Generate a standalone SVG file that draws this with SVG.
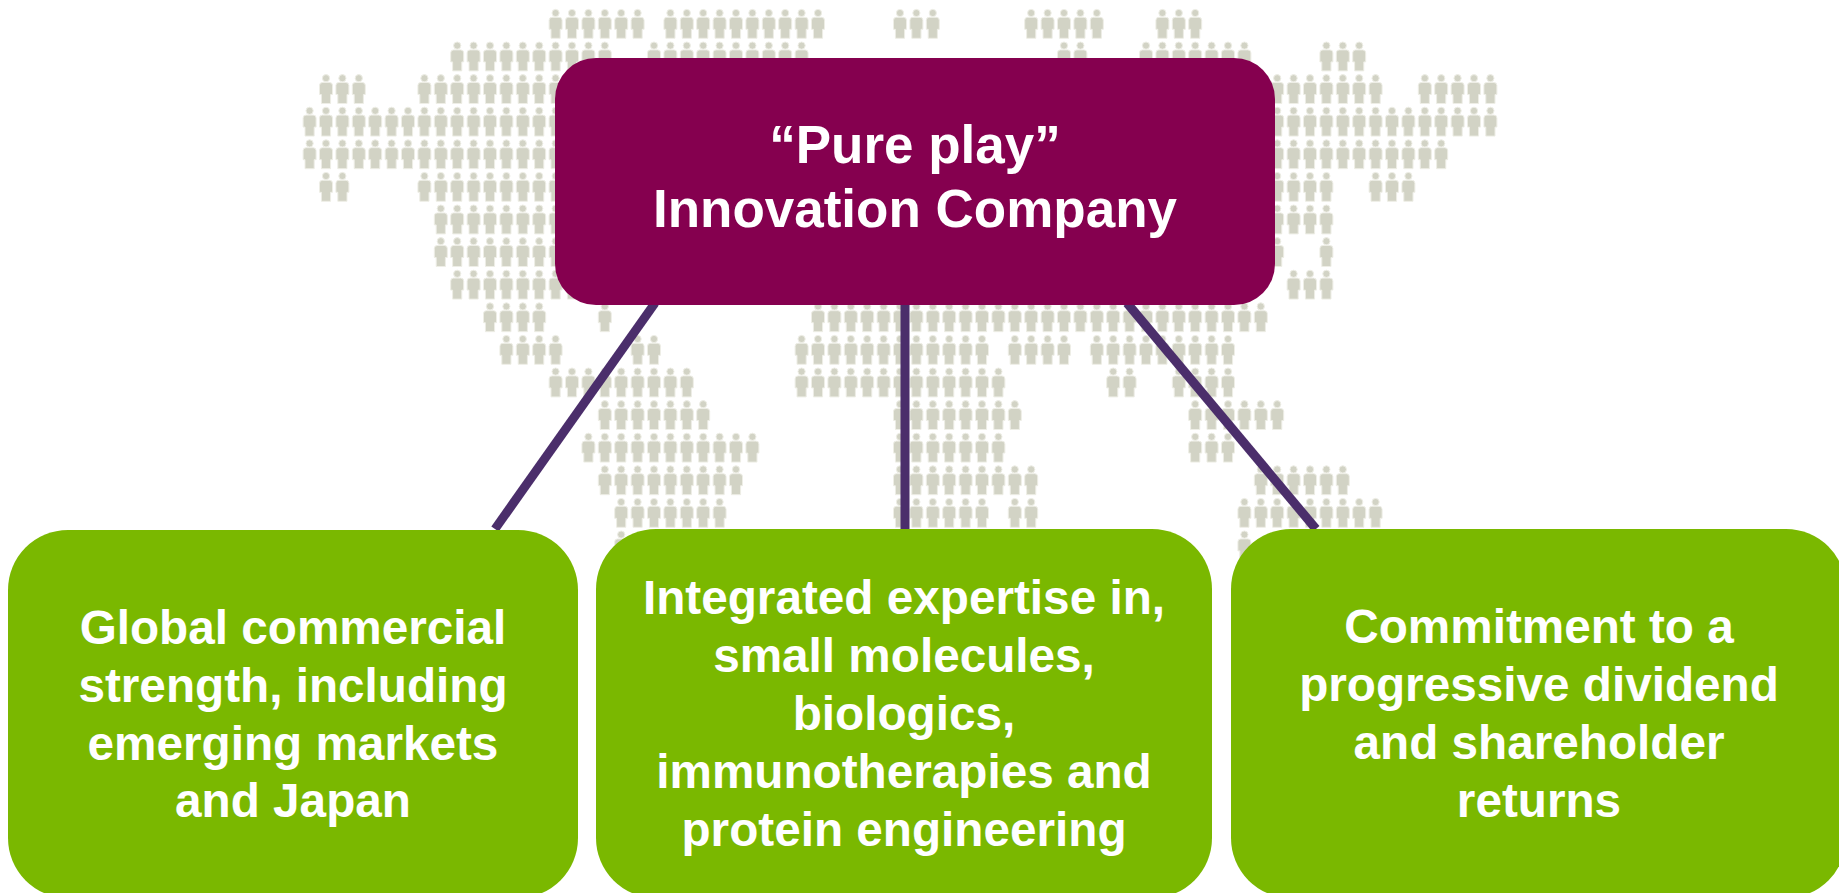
<svg xmlns="http://www.w3.org/2000/svg" width="1839" height="893" viewBox="0 0 1839 893">
<style>
text{font-family:"Liberation Sans",Arial,sans-serif;font-weight:700;fill:#fff;text-anchor:middle}
.t{font-size:53px}.g{font-size:47.7px}
.c{stroke:#4b2e6b;stroke-width:9;fill:none}
.h{fill:#d2d3c5;stroke:#eeeee6;stroke-width:1}
.n{fill:#7ab800}
</style>
<rect width="1839" height="893" fill="#fff"/>
<defs><g id="p" class="h"><circle cx="0" cy="3.7" r="3.6"/><path d="M-6.5 11Q-6.5 8-3.5 8H3.5Q6.5 8 6.5 11V20H4.6V29H-4.6V20H-6.5Z"/></g></defs>
<g id="map">
<g transform="translate(0,9.3)"><use href="#p" x="555.6"/><use href="#p" x="572"/><use href="#p" x="588.4"/><use href="#p" x="604.8"/><use href="#p" x="621.2"/><use href="#p" x="637.6"/><use href="#p" x="670.4"/><use href="#p" x="686.8"/><use href="#p" x="703.2"/><use href="#p" x="719.6"/><use href="#p" x="736"/><use href="#p" x="752.4"/><use href="#p" x="768.8"/><use href="#p" x="785.2"/><use href="#p" x="801.6"/><use href="#p" x="818"/><use href="#p" x="900"/><use href="#p" x="916.4"/><use href="#p" x="932.8"/><use href="#p" x="1031.2"/><use href="#p" x="1047.6"/><use href="#p" x="1064"/><use href="#p" x="1080.4"/><use href="#p" x="1096.8"/><use href="#p" x="1162.4"/><use href="#p" x="1178.8"/><use href="#p" x="1195.2"/></g>
<g transform="translate(0,41.9)"><use href="#p" x="457.2"/><use href="#p" x="473.6"/><use href="#p" x="490"/><use href="#p" x="506.4"/><use href="#p" x="522.8"/><use href="#p" x="539.2"/><use href="#p" x="555.6"/><use href="#p" x="572"/><use href="#p" x="588.4"/><use href="#p" x="604.8"/><use href="#p" x="654"/><use href="#p" x="670.4"/><use href="#p" x="686.8"/><use href="#p" x="703.2"/><use href="#p" x="719.6"/><use href="#p" x="736"/><use href="#p" x="752.4"/><use href="#p" x="768.8"/><use href="#p" x="785.2"/><use href="#p" x="801.6"/><use href="#p" x="1064"/><use href="#p" x="1080.4"/><use href="#p" x="1146"/><use href="#p" x="1162.4"/><use href="#p" x="1178.8"/><use href="#p" x="1195.2"/><use href="#p" x="1211.6"/><use href="#p" x="1228"/><use href="#p" x="1244.4"/><use href="#p" x="1326.4"/><use href="#p" x="1342.8"/><use href="#p" x="1359.2"/></g>
<g transform="translate(0,74.5)"><use href="#p" x="326"/><use href="#p" x="342.4"/><use href="#p" x="358.8"/><use href="#p" x="424.4"/><use href="#p" x="440.8"/><use href="#p" x="457.2"/><use href="#p" x="473.6"/><use href="#p" x="490"/><use href="#p" x="506.4"/><use href="#p" x="522.8"/><use href="#p" x="539.2"/><use href="#p" x="555.6"/><use href="#p" x="1277.2"/><use href="#p" x="1293.6"/><use href="#p" x="1310"/><use href="#p" x="1326.4"/><use href="#p" x="1342.8"/><use href="#p" x="1359.2"/><use href="#p" x="1375.6"/><use href="#p" x="1424.8"/><use href="#p" x="1441.2"/><use href="#p" x="1457.6"/><use href="#p" x="1474"/><use href="#p" x="1490.4"/></g>
<g transform="translate(0,107.1)"><use href="#p" x="309.6"/><use href="#p" x="326"/><use href="#p" x="342.4"/><use href="#p" x="358.8"/><use href="#p" x="375.2"/><use href="#p" x="391.6"/><use href="#p" x="408"/><use href="#p" x="424.4"/><use href="#p" x="440.8"/><use href="#p" x="457.2"/><use href="#p" x="473.6"/><use href="#p" x="490"/><use href="#p" x="506.4"/><use href="#p" x="522.8"/><use href="#p" x="539.2"/><use href="#p" x="555.6"/><use href="#p" x="1277.2"/><use href="#p" x="1293.6"/><use href="#p" x="1310"/><use href="#p" x="1326.4"/><use href="#p" x="1342.8"/><use href="#p" x="1359.2"/><use href="#p" x="1375.6"/><use href="#p" x="1392"/><use href="#p" x="1408.4"/><use href="#p" x="1424.8"/><use href="#p" x="1441.2"/><use href="#p" x="1457.6"/><use href="#p" x="1474"/><use href="#p" x="1490.4"/></g>
<g transform="translate(0,139.7)"><use href="#p" x="309.6"/><use href="#p" x="326"/><use href="#p" x="342.4"/><use href="#p" x="358.8"/><use href="#p" x="375.2"/><use href="#p" x="391.6"/><use href="#p" x="408"/><use href="#p" x="424.4"/><use href="#p" x="440.8"/><use href="#p" x="457.2"/><use href="#p" x="473.6"/><use href="#p" x="490"/><use href="#p" x="506.4"/><use href="#p" x="522.8"/><use href="#p" x="539.2"/><use href="#p" x="555.6"/><use href="#p" x="1277.2"/><use href="#p" x="1293.6"/><use href="#p" x="1310"/><use href="#p" x="1326.4"/><use href="#p" x="1342.8"/><use href="#p" x="1359.2"/><use href="#p" x="1375.6"/><use href="#p" x="1392"/><use href="#p" x="1408.4"/><use href="#p" x="1424.8"/><use href="#p" x="1441.2"/></g>
<g transform="translate(0,172.3)"><use href="#p" x="326"/><use href="#p" x="342.4"/><use href="#p" x="424.4"/><use href="#p" x="440.8"/><use href="#p" x="457.2"/><use href="#p" x="473.6"/><use href="#p" x="490"/><use href="#p" x="506.4"/><use href="#p" x="522.8"/><use href="#p" x="539.2"/><use href="#p" x="555.6"/><use href="#p" x="1277.2"/><use href="#p" x="1293.6"/><use href="#p" x="1310"/><use href="#p" x="1326.4"/><use href="#p" x="1375.6"/><use href="#p" x="1392"/><use href="#p" x="1408.4"/></g>
<g transform="translate(0,204.9)"><use href="#p" x="440.8"/><use href="#p" x="457.2"/><use href="#p" x="473.6"/><use href="#p" x="490"/><use href="#p" x="506.4"/><use href="#p" x="522.8"/><use href="#p" x="539.2"/><use href="#p" x="555.6"/><use href="#p" x="1277.2"/><use href="#p" x="1293.6"/><use href="#p" x="1310"/><use href="#p" x="1326.4"/></g>
<g transform="translate(0,237.5)"><use href="#p" x="440.8"/><use href="#p" x="457.2"/><use href="#p" x="473.6"/><use href="#p" x="490"/><use href="#p" x="506.4"/><use href="#p" x="522.8"/><use href="#p" x="539.2"/><use href="#p" x="555.6"/><use href="#p" x="1277.2"/><use href="#p" x="1326.4"/></g>
<g transform="translate(0,270.1)"><use href="#p" x="457.2"/><use href="#p" x="473.6"/><use href="#p" x="490"/><use href="#p" x="506.4"/><use href="#p" x="522.8"/><use href="#p" x="539.2"/><use href="#p" x="555.6"/><use href="#p" x="572"/><use href="#p" x="1293.6"/><use href="#p" x="1310"/><use href="#p" x="1326.4"/></g>
<g transform="translate(0,302.7)"><use href="#p" x="490"/><use href="#p" x="506.4"/><use href="#p" x="522.8"/><use href="#p" x="539.2"/><use href="#p" x="604.8"/><use href="#p" x="818"/><use href="#p" x="834.4"/><use href="#p" x="850.8"/><use href="#p" x="867.2"/><use href="#p" x="883.6"/><use href="#p" x="900"/><use href="#p" x="916.4"/><use href="#p" x="932.8"/><use href="#p" x="949.2"/><use href="#p" x="965.6"/><use href="#p" x="982"/><use href="#p" x="998.4"/><use href="#p" x="1014.8"/><use href="#p" x="1031.2"/><use href="#p" x="1047.6"/><use href="#p" x="1064"/><use href="#p" x="1080.4"/><use href="#p" x="1096.8"/><use href="#p" x="1113.2"/><use href="#p" x="1129.6"/><use href="#p" x="1146"/><use href="#p" x="1162.4"/><use href="#p" x="1178.8"/><use href="#p" x="1195.2"/><use href="#p" x="1211.6"/><use href="#p" x="1228"/><use href="#p" x="1244.4"/><use href="#p" x="1260.8"/></g>
<g transform="translate(0,335.3)"><use href="#p" x="506.4"/><use href="#p" x="522.8"/><use href="#p" x="539.2"/><use href="#p" x="555.6"/><use href="#p" x="637.6"/><use href="#p" x="654"/><use href="#p" x="801.6"/><use href="#p" x="818"/><use href="#p" x="834.4"/><use href="#p" x="850.8"/><use href="#p" x="867.2"/><use href="#p" x="883.6"/><use href="#p" x="900"/><use href="#p" x="916.4"/><use href="#p" x="932.8"/><use href="#p" x="949.2"/><use href="#p" x="965.6"/><use href="#p" x="982"/><use href="#p" x="1014.8"/><use href="#p" x="1031.2"/><use href="#p" x="1047.6"/><use href="#p" x="1064"/><use href="#p" x="1096.8"/><use href="#p" x="1113.2"/><use href="#p" x="1129.6"/><use href="#p" x="1146"/><use href="#p" x="1162.4"/><use href="#p" x="1178.8"/><use href="#p" x="1195.2"/><use href="#p" x="1211.6"/><use href="#p" x="1228"/></g>
<g transform="translate(0,367.9)"><use href="#p" x="555.6"/><use href="#p" x="572"/><use href="#p" x="588.4"/><use href="#p" x="604.8"/><use href="#p" x="621.2"/><use href="#p" x="637.6"/><use href="#p" x="654"/><use href="#p" x="670.4"/><use href="#p" x="686.8"/><use href="#p" x="801.6"/><use href="#p" x="818"/><use href="#p" x="834.4"/><use href="#p" x="850.8"/><use href="#p" x="867.2"/><use href="#p" x="883.6"/><use href="#p" x="900"/><use href="#p" x="916.4"/><use href="#p" x="932.8"/><use href="#p" x="949.2"/><use href="#p" x="965.6"/><use href="#p" x="982"/><use href="#p" x="998.4"/><use href="#p" x="1113.2"/><use href="#p" x="1129.6"/><use href="#p" x="1178.8"/><use href="#p" x="1195.2"/><use href="#p" x="1211.6"/><use href="#p" x="1228"/></g>
<g transform="translate(0,400.5)"><use href="#p" x="604.8"/><use href="#p" x="621.2"/><use href="#p" x="637.6"/><use href="#p" x="654"/><use href="#p" x="670.4"/><use href="#p" x="686.8"/><use href="#p" x="703.2"/><use href="#p" x="900"/><use href="#p" x="916.4"/><use href="#p" x="932.8"/><use href="#p" x="949.2"/><use href="#p" x="965.6"/><use href="#p" x="982"/><use href="#p" x="998.4"/><use href="#p" x="1014.8"/><use href="#p" x="1195.2"/><use href="#p" x="1211.6"/><use href="#p" x="1228"/><use href="#p" x="1244.4"/><use href="#p" x="1260.8"/><use href="#p" x="1277.2"/></g>
<g transform="translate(0,433.1)"><use href="#p" x="588.4"/><use href="#p" x="604.8"/><use href="#p" x="621.2"/><use href="#p" x="637.6"/><use href="#p" x="654"/><use href="#p" x="670.4"/><use href="#p" x="686.8"/><use href="#p" x="703.2"/><use href="#p" x="719.6"/><use href="#p" x="736"/><use href="#p" x="752.4"/><use href="#p" x="900"/><use href="#p" x="916.4"/><use href="#p" x="932.8"/><use href="#p" x="949.2"/><use href="#p" x="965.6"/><use href="#p" x="982"/><use href="#p" x="998.4"/><use href="#p" x="1195.2"/><use href="#p" x="1211.6"/><use href="#p" x="1228"/></g>
<g transform="translate(0,465.7)"><use href="#p" x="604.8"/><use href="#p" x="621.2"/><use href="#p" x="637.6"/><use href="#p" x="654"/><use href="#p" x="670.4"/><use href="#p" x="686.8"/><use href="#p" x="703.2"/><use href="#p" x="719.6"/><use href="#p" x="736"/><use href="#p" x="900"/><use href="#p" x="916.4"/><use href="#p" x="932.8"/><use href="#p" x="949.2"/><use href="#p" x="965.6"/><use href="#p" x="982"/><use href="#p" x="998.4"/><use href="#p" x="1014.8"/><use href="#p" x="1031.2"/><use href="#p" x="1260.8"/><use href="#p" x="1277.2"/><use href="#p" x="1293.6"/><use href="#p" x="1310"/><use href="#p" x="1326.4"/><use href="#p" x="1342.8"/></g>
<g transform="translate(0,498.3)"><use href="#p" x="621.2"/><use href="#p" x="637.6"/><use href="#p" x="654"/><use href="#p" x="670.4"/><use href="#p" x="686.8"/><use href="#p" x="703.2"/><use href="#p" x="719.6"/><use href="#p" x="900"/><use href="#p" x="916.4"/><use href="#p" x="932.8"/><use href="#p" x="949.2"/><use href="#p" x="965.6"/><use href="#p" x="982"/><use href="#p" x="1014.8"/><use href="#p" x="1031.2"/><use href="#p" x="1244.4"/><use href="#p" x="1260.8"/><use href="#p" x="1277.2"/><use href="#p" x="1293.6"/><use href="#p" x="1310"/><use href="#p" x="1326.4"/><use href="#p" x="1342.8"/><use href="#p" x="1359.2"/><use href="#p" x="1375.6"/></g>
<g transform="translate(0,530.9)"><use href="#p" x="621.2"/><use href="#p" x="1244.4"/></g>
</g>
<g id="connectors"><path class="c" d="M655 303L495 529"/><path class="c" d="M905 303V529"/><path class="c" d="M1127 303L1316 529"/></g>
<g id="top"><rect x="555" y="58" width="720" height="247" rx="41" fill="#85004f"/><text class="t" x="915" y="163">“Pure play”</text><text class="t" x="915" y="227">Innovation Company</text></g>
<g id="left"><rect class="n" x="8" y="530" width="570" height="368" rx="60"/><text class="g" x="293" y="644">Global commercial</text><text class="g" x="293" y="702">strength, including</text><text class="g" x="293" y="760">emerging markets</text><text class="g" x="293" y="817">and Japan</text></g>
<g id="middle"><rect class="n" x="596" y="529" width="616" height="369" rx="60"/><text class="g" x="904" y="614">Integrated expertise in,</text><text class="g" x="904" y="672">small molecules,</text><text class="g" x="904" y="730">biologics,</text><text class="g" x="904" y="788">immunotherapies and</text><text class="g" x="904" y="846">protein engineering</text></g>
<g id="right"><rect class="n" x="1231" y="529" width="615" height="369" rx="60"/><text class="g" x="1539" y="643">Commitment to a</text><text class="g" x="1539" y="701">progressive dividend</text><text class="g" x="1539" y="759">and shareholder</text><text class="g" x="1539" y="817">returns</text></g>
</svg>
